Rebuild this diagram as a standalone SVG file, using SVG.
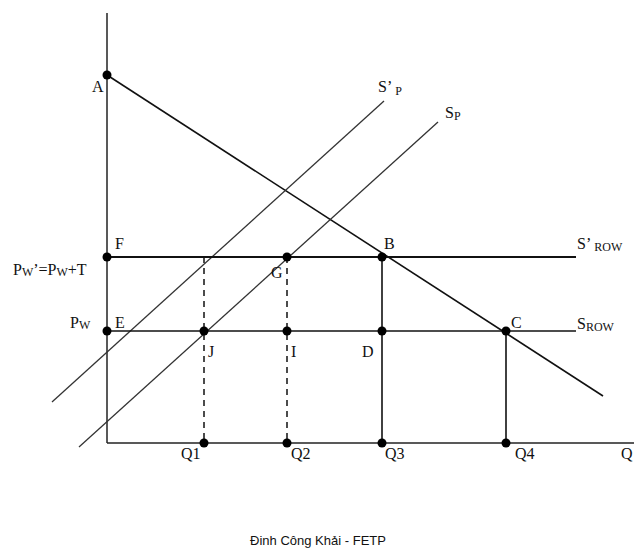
<svg xmlns="http://www.w3.org/2000/svg" width="634" height="551" viewBox="0 0 634 551">
<style>
.ax{stroke:#222;stroke-width:1.5;fill:none}
.ln{stroke:#111;stroke-width:1.6;fill:none}
.sp{stroke:#333;stroke-width:1.3;fill:none}
.dash{stroke:#111;stroke-width:1.5;stroke-dasharray:6,5;fill:none}
.dot{fill:#000}
text{font-family:"Liberation Serif","Times New Roman",serif;font-size:16px;fill:#111}
.sub{font-size:12px}
.foot{font-family:"Liberation Sans",Arial,sans-serif;font-size:13px}
</style>
<rect width="634" height="551" fill="#fff"/>
<g id="connectors">
<line class="ax" x1="107" y1="13" x2="107" y2="443"/>
<line class="ax" x1="107" y1="443" x2="634" y2="443"/>
<line class="ln" x1="107" y1="75" x2="603" y2="396"/>
<line class="sp" x1="52" y1="402" x2="384" y2="101"/>
<line class="sp" x1="79" y1="447" x2="438" y2="122"/>
<line class="ln" x1="107" y1="257" x2="576" y2="257" style="stroke-width:2"/>
<line class="ln" x1="107" y1="331" x2="576" y2="331"/>
<line class="dash" x1="204" y1="257" x2="204" y2="443"/>
<line class="dash" x1="287" y1="257" x2="287" y2="443"/>
<line class="ln" x1="382" y1="257" x2="382" y2="443"/>
<line class="ln" x1="506" y1="331" x2="506" y2="443"/>
</g>
<g id="A"><circle class="dot" cx="107" cy="75" r="4.5"/><text x="92" y="92">A</text></g>
<g id="F"><circle class="dot" cx="107" cy="257" r="4.5"/><text x="115" y="249">F</text></g>
<g id="E"><circle class="dot" cx="107" cy="331" r="4.5"/><text x="115" y="328">E</text></g>
<g id="G"><circle class="dot" cx="287" cy="257" r="4.5"/><text x="271" y="278">G</text></g>
<g id="B"><circle class="dot" cx="382" cy="257" r="4.5"/><text x="384" y="249">B</text></g>
<g id="J"><circle class="dot" cx="204" cy="331" r="4.5"/><text x="208" y="357">J</text></g>
<g id="I"><circle class="dot" cx="287" cy="331" r="4.5"/><text x="291" y="357">I</text></g>
<g id="D"><circle class="dot" cx="382" cy="331" r="4.5"/><text x="362" y="357">D</text></g>
<g id="C"><circle class="dot" cx="506" cy="331" r="4.5"/><text x="511" y="328">C</text></g>
<g id="Q1"><circle class="dot" cx="204" cy="443" r="4.5"/><text x="181" y="459">Q1</text></g>
<g id="Q2"><circle class="dot" cx="287" cy="443" r="4.5"/><text x="291" y="459">Q2</text></g>
<g id="Q3"><circle class="dot" cx="382" cy="443" r="4.5"/><text x="385" y="459">Q3</text></g>
<g id="Q4"><circle class="dot" cx="506" cy="443" r="4.5"/><text x="515" y="459">Q4</text></g>
<g id="Q"><text x="621" y="459">Q</text></g>
<g id="labels">
<text x="378" y="92">S’<tspan class="sub" dx="3" dy="3">P</tspan></text>
<text x="445" y="118">S<tspan class="sub" dy="2">P</tspan></text>
<text x="577" y="249">S’<tspan class="sub" dx="3" dy="2">ROW</tspan></text>
<text x="577" y="329">S<tspan class="sub" dy="2">ROW</tspan></text>
<text x="13" y="275">P<tspan class="sub" dy="1">W</tspan><tspan dy="-1">’=P</tspan><tspan class="sub" dy="1">W</tspan><tspan dy="-1">+T</tspan></text>
<text x="70" y="328">P<tspan class="sub" dy="1">W</tspan></text>
<text class="foot" x="318" y="545" text-anchor="middle">Đinh Công Khải - FETP</text>
</g>
</svg>
